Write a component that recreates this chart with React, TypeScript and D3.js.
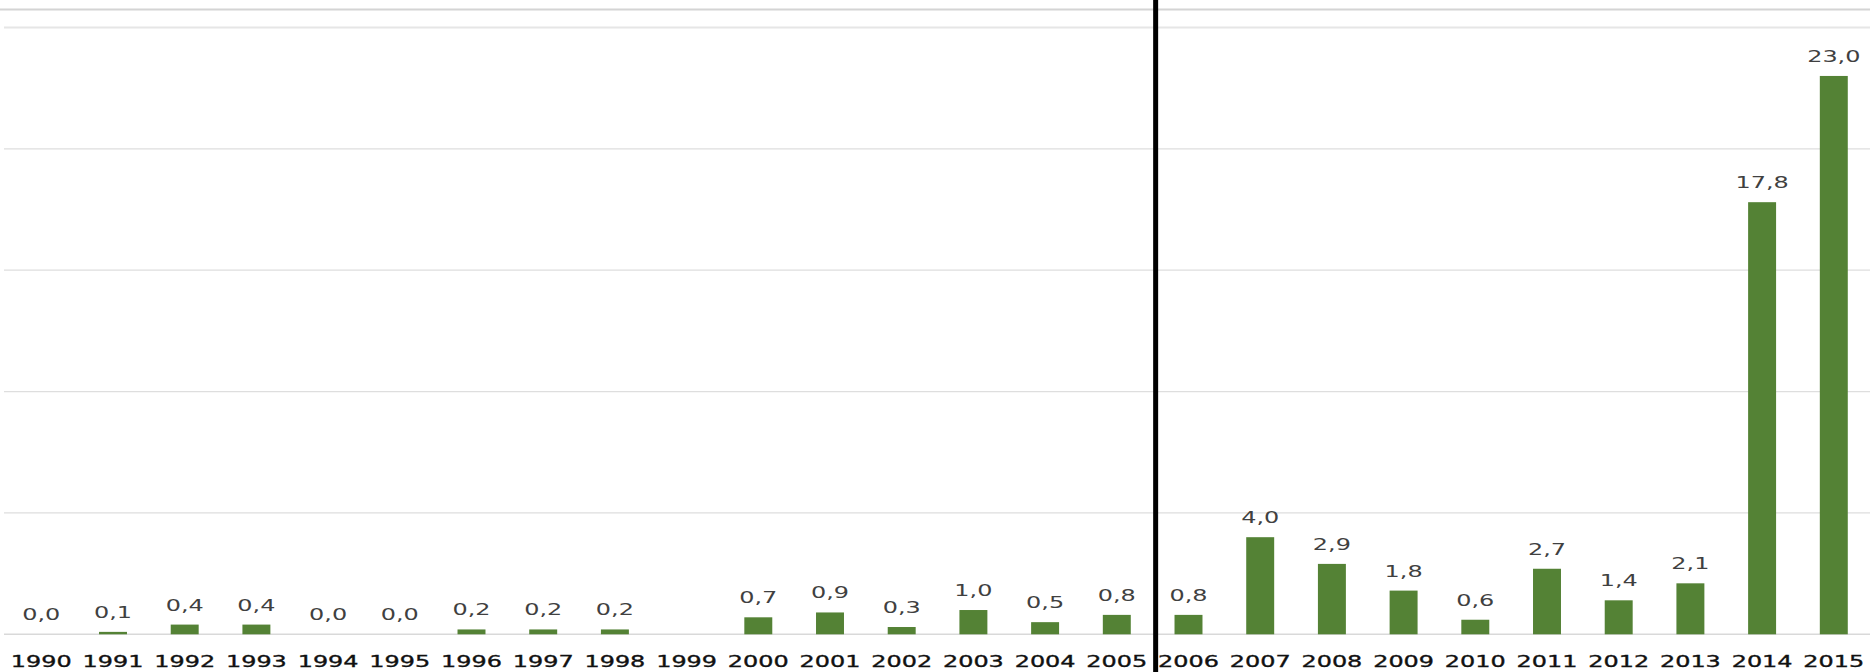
import React, { useEffect, useRef } from "react";
import * as d3 from "d3";

// data (1999 has no value)
const years = [
  "1990", "1991", "1992", "1993", "1994", "1995", "1996", "1997", "1998", "1999",
  "2000", "2001", "2002", "2003", "2004", "2005", "2006", "2007", "2008", "2009",
  "2010", "2011", "2012", "2013", "2014", "2015",
];
const values: (number | null)[] = [
  0.0, 0.1, 0.4, 0.4, 0.0, 0.0, 0.2, 0.2, 0.2, null,
  0.7, 0.9, 0.3, 1.0, 0.5, 0.8, 0.8, 4.0, 2.9, 1.8,
  0.6, 2.7, 1.4, 2.1, 17.8, 23.0,
];
const gridTicks = [5, 10, 15, 20, 25];
const splitYear = "2006"; // black divider sits before this year

const width = 1870,
  height = 672;
const margin = { top: 27.4, bottom: 37.7, left: 5.45, right: 0.35 };
const stretch = 1.45; // the reference text is stretched sideways

const App: React.FC = () => {
  const ref = useRef<SVGSVGElement | null>(null);

  useEffect(() => {
    const svg = d3.select(ref.current);
    svg.selectAll("*").remove();

    const x = d3
      .scaleBand<string>()
      .domain(years)
      .range([margin.left, width - margin.right])
      .paddingInner(0.61)
      .paddingOuter(0.305);

    const y = d3
      .scaleLinear()
      .domain([0, 25])
      .range([height - margin.bottom, margin.top]);

    // top border line
    svg
      .append("line")
      .attr("x1", 0)
      .attr("x2", width)
      .attr("y1", 9.5)
      .attr("y2", 9.5)
      .attr("stroke", "#d4d4d4")
      .attr("stroke-width", 2);

    // gridlines
    svg
      .append("g")
      .selectAll("line")
      .data(gridTicks)
      .join("line")
      .attr("x1", 4)
      .attr("x2", width)
      .attr("y1", (d) => y(d))
      .attr("y2", (d) => y(d))
      .attr("stroke", (d) => (d === 25 ? "#e6e6e6" : "#dedede"))
      .attr("stroke-width", (d) => (d === 25 ? 2 : 1.2));

    // baseline
    svg
      .append("line")
      .attr("x1", 4)
      .attr("x2", width)
      .attr("y1", y(0))
      .attr("y2", y(0))
      .attr("stroke", "#d9d9d9")
      .attr("stroke-width", 1.5);

    const data = years.map((yr, i) => ({ year: yr, value: values[i] }));
    const withValue = data.filter((d) => d.value !== null) as {
      year: string;
      value: number;
    }[];

    // bars
    svg
      .append("g")
      .selectAll("rect")
      .data(withValue)
      .join("rect")
      .attr("x", (d) => x(d.year)!)
      .attr("width", x.bandwidth())
      .attr("y", (d) => y(d.value))
      .attr("height", (d) => y(0) - y(d.value))
      .attr("fill", "#548235");

    // value labels
    svg
      .append("g")
      .selectAll("text")
      .data(withValue)
      .join("text")
      .attr(
        "transform",
        (d) =>
          `translate(${x(d.year)! + x.bandwidth() / 2},${y(d.value) - 14}) scale(${stretch},1)`
      )
      .attr("text-anchor", "middle")
      .attr("font-family", "DejaVu Sans")
      .attr("font-size", 16.5)
      .attr("fill", "#404040")
      .text((d) => d.value.toFixed(1).replace(".", ","));

    // category labels
    svg
      .append("g")
      .selectAll("text")
      .data(years)
      .join("text")
      .attr(
        "transform",
        (d) =>
          `translate(${x(d)! + x.bandwidth() / 2},${y(0) + 32.5}) scale(${stretch},1)`
      )
      .attr("text-anchor", "middle")
      .attr("font-family", "DejaVu Sans")
      .attr("font-size", 16.5)
      .attr("fill", "#111")
      .attr("stroke", "#111")
      .attr("stroke-width", 0.35)
      .text((d) => d);

    // black divider between 2005 and 2006
    const divX = x(splitYear)! - (x.step() - x.bandwidth()) / 2 + 3;
    svg
      .append("line")
      .attr("x1", divX)
      .attr("x2", divX)
      .attr("y1", 0)
      .attr("y2", height)
      .attr("stroke", "#000")
      .attr("stroke-width", 5);
  }, []);

  return (
    <div style={{ position: "fixed", left: 0, top: 0 }}>
      <svg ref={ref} width={width} height={height} style={{ display: "block", background: "#fff" }}></svg>
    </div>
  );
};

export default App;
